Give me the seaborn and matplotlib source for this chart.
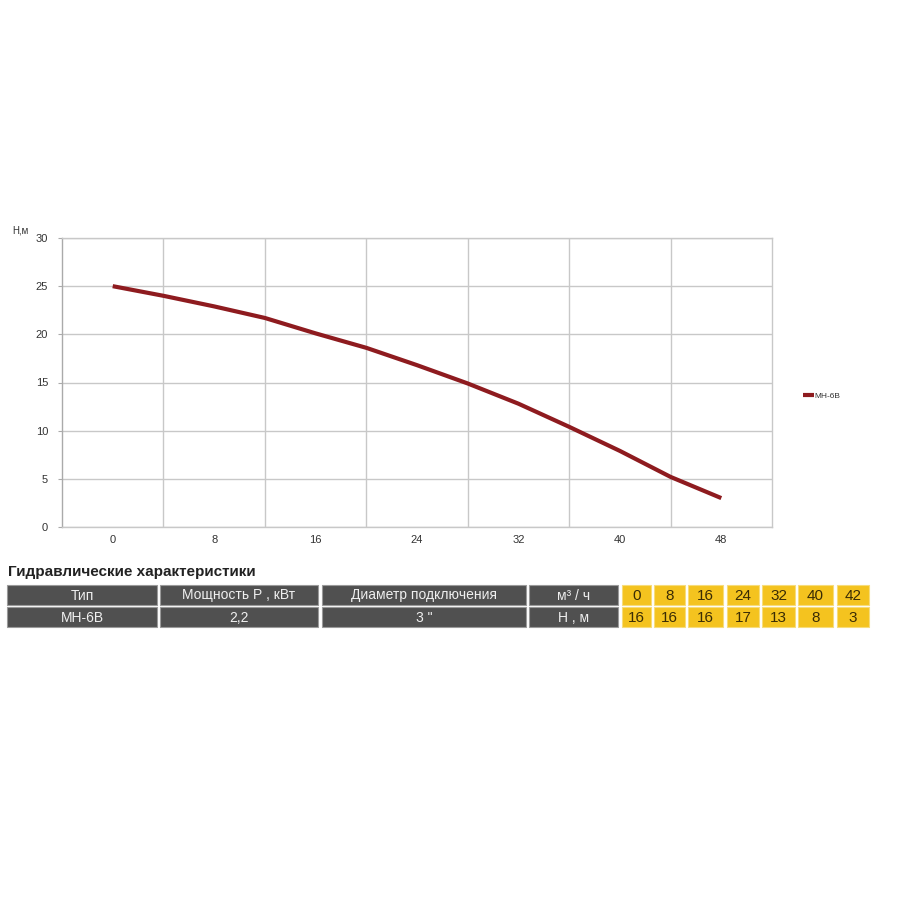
import matplotlib
matplotlib.use("Agg")
import matplotlib.pyplot as plt
import matplotlib.patches as mpatches
import seaborn as sns
import pandas as pd
import numpy as np

# --- data (every 4 m3/h) ---
flow = [0, 4, 8, 12, 16, 20, 24, 28, 32, 36, 40, 44, 48]
head = [25.0, 24.0, 22.9, 21.7, 20.1, 18.6, 16.8, 14.9, 12.8, 10.4, 7.9, 5.2, 3.0]
flow_ticks = [0, 8, 16, 24, 32, 40, 48]
series_name = "МН-6В"

table_title = "Гидравлические характеристики"
table_header = ["Тип", "Мощность Р , кВт", "Диаметр подключения", "м³ / ч"]
table_row = ["МН-6В", "2,2", "3 \"", "Н , м"]
table_flow = [0, 8, 16, 24, 32, 40, 42]
table_head = [16, 16, 16, 17, 13, 8, 3]

sns.set_theme(style="white")
plt.rcParams['font.family'] = ['Liberation Sans Narrow', 'Liberation Sans', 'DejaVu Sans']

fig = plt.figure(figsize=(9, 9), dpi=100)
ax = fig.add_axes([62 / 900, 1 - 527 / 900, 710 / 900, 289 / 900])

df = pd.DataFrame({"Q": flow, "H": head})
sns.lineplot(data=df, x="Q", y="H", ax=ax, color="#8e1b1f", linewidth=3.0,
             label=series_name, solid_capstyle="butt", solid_joinstyle="round")

ax.set_xlim(-4, 52)
ax.set_ylim(0, 30)
ax.set_xticks(flow_ticks)
ax.set_xticklabels([str(v) for v in flow_ticks])
ax.set_xticks(np.arange(4, 52, 8), minor=True)
ax.set_yticks(range(0, 31, 5))
ax.grid(False)
ax.grid(True, axis="x", which="minor", color="#c8c8c8", linewidth=1)
ax.grid(True, axis="y", which="major", color="#c8c8c8", linewidth=1)
ax.tick_params(axis="x", which="both", length=0, labelsize=8, colors="#333333", pad=6)
ax.tick_params(axis="y", which="major", length=3, width=0.8, color="#aaaaaa",
               labelsize=8, labelcolor="#333333", pad=7, left=True)
for s in ax.spines.values():
    s.set_color("#c8c8c8")
    s.set_linewidth(1)
ax.spines["left"].set_color("#aaaaaa")
ax.set_xlabel("")
ax.set_ylabel("")
fig.text(12 / 900, 1 - 231 / 900, "Н,м", fontsize=7, color="#333333", va="center")

leg = ax.legend(loc="center left", bbox_to_anchor=(799 / 900, 1 - 396 / 900),
                bbox_transform=fig.transFigure, frameon=False, fontsize=6,
                handlelength=1.3, handletextpad=0.1, borderpad=0)
for t in leg.get_texts():
    t.set_color("#333333")

# --- table ---
tab = fig.add_axes([0, 0, 1, 1])
tab.set_xlim(0, 900)
tab.set_ylim(900, 0)
tab.axis("off")
tab.patch.set_alpha(0)

tab.text(8, 572, table_title, fontsize=11, fontweight="bold", color="#222222",
         va="center", ha="left")

dark = "#505050"
yellow = "#f4c31f"
dark_cols = [(7, 157), (160, 318), (322, 526), (529, 618)]
yel_cols = [(622, 651), (654, 685), (688, 723), (727, 759), (762, 795), (798, 833), (837, 869)]
rows = [(585, 605), (607, 627)]

for (x0, x1), top, bot in zip(dark_cols, table_header, table_row):
    for (y0, y1), txt in zip(rows, [top, bot]):
        tab.add_patch(mpatches.Rectangle((x0, y0), x1 - x0, y1 - y0, facecolor=dark,
                                         edgecolor="#9a9a9a", linewidth=0.8))
        tab.text((x0 + x1) / 2, (y0 + y1) / 2 + 0.5, txt, fontsize=10, color="#efefef",
                 ha="center", va="center")

for (x0, x1), q, h in zip(yel_cols, table_flow, table_head):
    for (y0, y1), val in zip(rows, [q, h]):
        tab.add_patch(mpatches.Rectangle((x0, y0), x1 - x0, y1 - y0, facecolor=yellow,
                                         edgecolor="#f7dc7a", linewidth=0.8))
        tab.text((x0 + x1) / 2, (y0 + y1) / 2 + 0.5, str(val), fontsize=11, color="#3a2c05",
                 ha="center", va="center")

fig.savefig("out.png", dpi=100, facecolor="white")
